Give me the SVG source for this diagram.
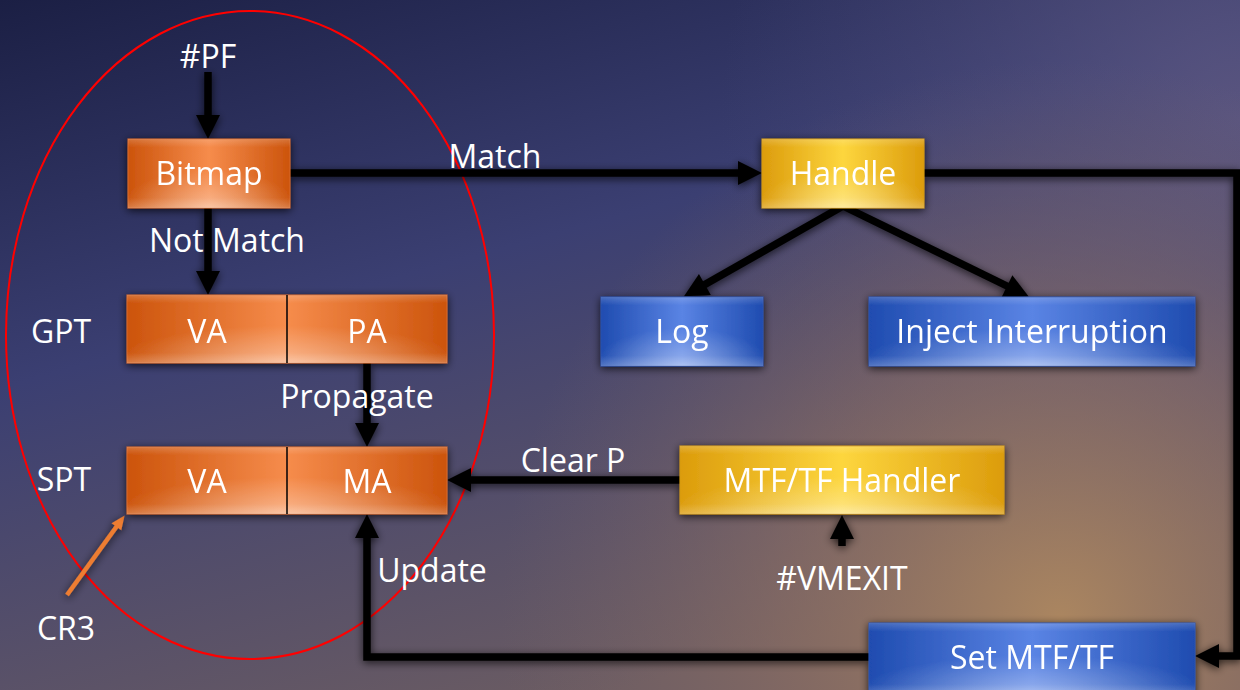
<svg xmlns="http://www.w3.org/2000/svg" width="1240" height="690" viewBox="0 0 1240 690">
  <defs>
    <!-- backdrop -->
    <linearGradient id="bgBase" x1="0" y1="0" x2="0.5" y2="1">
      <stop offset="0" stop-color="#1b1f44"/>
      <stop offset="0.45" stop-color="#3b3f72"/>
      <stop offset="1" stop-color="#6b5c62"/>
    </linearGradient>
    <radialGradient id="bgWarm" cx="1060" cy="620" r="560" gradientUnits="userSpaceOnUse">
      <stop offset="0" stop-color="#ae8860" stop-opacity="0.95"/>
      <stop offset="0.5" stop-color="#937263" stop-opacity="0.55"/>
      <stop offset="1" stop-color="#7a6468" stop-opacity="0"/>
    </radialGradient>
    <radialGradient id="bgGlow" cx="1240" cy="120" r="520" gradientUnits="userSpaceOnUse">
      <stop offset="0" stop-color="#5e5882" stop-opacity="0.85"/>
      <stop offset="1" stop-color="#4a4a78" stop-opacity="0"/>
    </radialGradient>

    <!-- box fills: dark sides, light middle, soft glow along the lower edge -->
    <linearGradient id="gOrange" x1="0" y1="0" x2="1" y2="0">
      <stop offset="0" stop-color="#cc540c"/>
      <stop offset="0.5" stop-color="#f68c4c"/>
      <stop offset="1" stop-color="#cc540c"/>
    </linearGradient>
    <linearGradient id="gYellow" x1="0" y1="0" x2="1" y2="0">
      <stop offset="0" stop-color="#dc9c0c"/>
      <stop offset="0.5" stop-color="#fdd63e"/>
      <stop offset="1" stop-color="#dc9c0c"/>
    </linearGradient>
    <linearGradient id="gBlue" x1="0" y1="0" x2="1" y2="0">
      <stop offset="0" stop-color="#1f4cb0"/>
      <stop offset="0.5" stop-color="#5a84e4"/>
      <stop offset="1" stop-color="#1f4cb0"/>
    </linearGradient>
    <radialGradient id="gShine" cx="0.5" cy="1" r="0.55">
      <stop offset="0" stop-color="#ffffff" stop-opacity="0.38"/>
      <stop offset="1" stop-color="#ffffff" stop-opacity="0"/>
    </radialGradient>
    <linearGradient id="gRim" x1="0" y1="0" x2="0" y2="1">
      <stop offset="0" stop-color="#ffffff" stop-opacity="0.18"/>
      <stop offset="0.12" stop-color="#ffffff" stop-opacity="0"/>
      <stop offset="0.85" stop-color="#ffffff" stop-opacity="0"/>
      <stop offset="1" stop-color="#ffffff" stop-opacity="0.2"/>
    </linearGradient>

    <filter id="shade" x="-20%" y="-30%" width="140%" height="160%">
      <feGaussianBlur in="SourceAlpha" stdDeviation="4"/>
      <feOffset dx="0" dy="2" result="b"/>
      <feComponentTransfer><feFuncA type="linear" slope="0.75"/></feComponentTransfer>
      <feMerge><feMergeNode/><feMergeNode in="SourceGraphic"/></feMerge>
    </filter>

    <marker id="head" markerUnits="userSpaceOnUse" markerWidth="26" markerHeight="26" refX="1" refY="12" orient="auto" overflow="visible">
      <path d="M0,0 L24,12 L0,24 Z" fill="#000"/>
    </marker>
    <marker id="headSmall" markerUnits="userSpaceOnUse" markerWidth="16" markerHeight="16" refX="1" refY="6" orient="auto" overflow="visible">
      <path d="M0,0 L14,6 L0,12 Z" fill="#ed7d31"/>
    </marker>

    <style>
      .lbl { font-family: "Open Sans", Lato, sans-serif; font-size: 32px; fill: #ffffff; text-anchor: middle; }
      .edge { fill: none; stroke: #000; stroke-width: 7.5; stroke-linejoin: miter; marker-end: url(#head); }
      .edge-cr3 { fill: none; stroke: #ed7d31; stroke-width: 4.5; marker-end: url(#headSmall); }
      .orange { fill: url(#gOrange); stroke: #d86a2c; stroke-width: 1; }
      .yellow { fill: url(#gYellow); stroke: #d49a10; stroke-width: 1; }
      .blue { fill: url(#gBlue); stroke: #2a52b0; stroke-width: 1; }
      .shine { fill: url(#gShine); }
      .rim { fill: url(#gRim); }
    </style>
  </defs>

  <!-- backdrop -->
  <rect width="1240" height="690" fill="url(#bgBase)"/>
  <rect width="1240" height="690" fill="url(#bgGlow)"/>
  <rect width="1240" height="690" fill="url(#bgWarm)"/>

  <!-- page-table region outline -->
  <ellipse id="region" cx="250" cy="335" rx="244" ry="324" fill="none" stroke="#ff0000" stroke-width="2"/>

  <!-- connectors -->
  <g id="connectors" filter="url(#shade)">
    <path class="edge" d="M208,72 V116"/>
    <path class="edge" d="M290,173 H739"/>
    <path class="edge" d="M208,208 V272"/>
    <path class="edge" d="M367,363 V424"/>
    <path class="edge" d="M680,480 H470"/>
    <path class="edge" d="M843,206 L704,285"/>
    <path class="edge" d="M843,206 L1008,286.5"/>
    <path class="edge" d="M924,173 H1237 V656 H1218"/>
    <path class="edge" d="M869,657 H367 V537"/>
    <path class="edge" d="M842,546 V538"/>
    <path class="edge-cr3" d="M67,595 L117,526"/>
  </g>

  <!-- nodes -->
  <g id="bitmap" filter="url(#shade)">
    <rect class="orange" x="128" y="139" width="162" height="69"/>
    <rect class="shine" x="128" y="139" width="162" height="69"/>
    <rect class="rim" x="128" y="139" width="162" height="69"/>
    <text class="lbl" x="209" y="185">Bitmap</text>
  </g>

  <g id="gpt" filter="url(#shade)">
    <rect class="orange" x="127" y="295" width="320" height="68"/>
    <rect class="shine" x="127" y="295" width="320" height="68"/>
    <rect class="rim" x="127" y="295" width="320" height="68"/>
    <line x1="287" y1="295" x2="287" y2="363" stroke="#000" stroke-width="1.5"/>
    <text class="lbl" x="207" y="343">VA</text>
    <text class="lbl" x="367" y="343">PA</text>
  </g>

  <g id="spt" filter="url(#shade)">
    <rect class="orange" x="127" y="447" width="320" height="67"/>
    <rect class="shine" x="127" y="447" width="320" height="67"/>
    <rect class="rim" x="127" y="447" width="320" height="67"/>
    <line x1="287" y1="447" x2="287" y2="514" stroke="#000" stroke-width="1.5"/>
    <text class="lbl" x="207" y="493">VA</text>
    <text class="lbl" x="367" y="493">MA</text>
  </g>

  <g id="handle" filter="url(#shade)">
    <rect class="yellow" x="762" y="139" width="162" height="69"/>
    <rect class="shine" x="762" y="139" width="162" height="69"/>
    <rect class="rim" x="762" y="139" width="162" height="69"/>
    <text class="lbl" x="843" y="185">Handle</text>
  </g>

  <g id="log" filter="url(#shade)">
    <rect class="blue" x="601" y="297" width="162" height="69"/>
    <rect class="shine" x="601" y="297" width="162" height="69"/>
    <rect class="rim" x="601" y="297" width="162" height="69"/>
    <text class="lbl" x="682" y="343">Log</text>
  </g>

  <g id="inject" filter="url(#shade)">
    <rect class="blue" x="869" y="297" width="326" height="69"/>
    <rect class="shine" x="869" y="297" width="326" height="69"/>
    <rect class="rim" x="869" y="297" width="326" height="69"/>
    <text class="lbl" x="1032" y="343">Inject Interruption</text>
  </g>

  <g id="mtf-handler" filter="url(#shade)">
    <rect class="yellow" x="680" y="446" width="324" height="68"/>
    <rect class="shine" x="680" y="446" width="324" height="68"/>
    <rect class="rim" x="680" y="446" width="324" height="68"/>
    <text class="lbl" x="842" y="492">MTF/TF Handler</text>
  </g>

  <g id="set-mtf" filter="url(#shade)">
    <rect class="blue" x="869" y="623" width="326" height="72"/>
    <rect class="shine" x="869" y="623" width="326" height="72"/>
    <rect class="rim" x="869" y="623" width="326" height="72"/>
    <text class="lbl" x="1032" y="669">Set MTF/TF</text>
  </g>

  <!-- free labels -->
  <g id="labels">
    <text class="lbl" x="208" y="68">#PF</text>
    <text class="lbl" x="495" y="168">Match</text>
    <text class="lbl" x="227" y="252">Not Match</text>
    <text class="lbl" x="357" y="408">Propagate</text>
    <text class="lbl" x="573" y="472">Clear P</text>
    <text class="lbl" x="432" y="582">Update</text>
    <text class="lbl" x="842" y="590">#VMEXIT</text>
    <text class="lbl" x="61" y="343">GPT</text>
    <text class="lbl" x="64" y="491">SPT</text>
    <text class="lbl" x="66" y="640">CR3</text>
  </g>
</svg>
